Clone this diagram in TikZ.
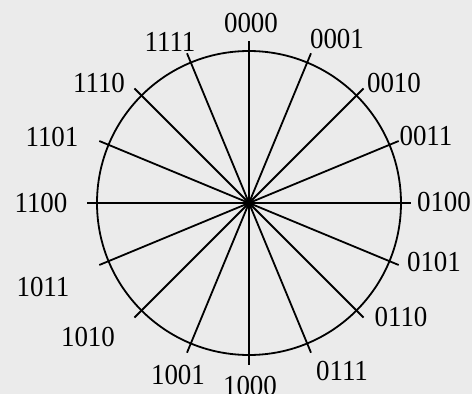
\documentclass[tikz,border=0pt]{standalone}
\usepackage{fontspec}
\setmainfont{Liberation Serif}[FakeStretch=0.93]
\definecolor{panelgray}{RGB}{235,235,235}

\begin{document}
\begin{tikzpicture}[
  x=1pt, y=1pt,
  code/.style={inner sep=0pt, font=\fontsize{29}{32}\selectfont},
  spoke/.style={draw=black, line width=1.8pt},
  rim/.style={draw=black, line width=1.8pt}
]
  \fill[panelgray] (-249,-191) rectangle (223,203);
  \useasboundingbox (-249,-191) rectangle (223,203);

  \coordinate (o) at (0,0);
  \draw[rim] (o) circle (152);

  % spoke ends
  \coordinate (e0)  at (90:162);
  \coordinate (e1)  at (67.5:162);
  \coordinate (e2)  at (45:162);
  \coordinate (e3)  at (22.5:162);
  \coordinate (e4)  at (0:162);
  \coordinate (e5)  at (-22.5:162);
  \coordinate (e6)  at (-45:162);
  \coordinate (e7)  at (-67.5:162);
  \coordinate (e8)  at (-90:162);
  \coordinate (e9)  at (-112.5:162);
  \coordinate (e10) at (-135:162);
  \coordinate (e11) at (-157.5:162);
  \coordinate (e12) at (180:162);
  \coordinate (e13) at (157.5:162);
  \coordinate (e14) at (135:162);
  \coordinate (e15) at (112.5:162);

  \draw[spoke] (o) -- (e0);
  \draw[spoke] (o) -- (e1);
  \draw[spoke] (o) -- (e2);
  \draw[spoke] (o) -- (e3);
  \draw[spoke] (o) -- (e4);
  \draw[spoke] (o) -- (e5);
  \draw[spoke] (o) -- (e6);
  \draw[spoke] (o) -- (e7);
  \draw[spoke] (o) -- (e8);
  \draw[spoke] (o) -- (e9);
  \draw[spoke] (o) -- (e10);
  \draw[spoke] (o) -- (e11);
  \draw[spoke] (o) -- (e12);
  \draw[spoke] (o) -- (e13);
  \draw[spoke] (o) -- (e14);
  \draw[spoke] (o) -- (e15);

  % labels
  \node[code] (l0)  at (2,180)     {0000};
  \node[code] (l1)  at (88,164)    {0001};
  \node[code] (l2)  at (145,120)   {0010};
  \node[code] (l3)  at (177,67)    {0011};
  \node[code] (l4)  at (195,1)     {0100};
  \node[code] (l5)  at (185,-59)   {0101};
  \node[code] (l6)  at (152,-114)  {0110};
  \node[code] (l7)  at (93,-168)   {0111};
  \node[code] (l8)  at (1,-183)    {1000};
  \node[code] (l9)  at (-71,-172)  {1001};
  \node[code] (l10) at (-161,-134) {1010};
  \node[code] (l11) at (-206,-84)  {1011};
  \node[code] (l12) at (-208,0)    {1100};
  \node[code] (l13) at (-197,66)   {1101};
  \node[code] (l14) at (-150,120)  {1110};
  \node[code] (l15) at (-79,161)   {1111};
\end{tikzpicture}
\end{document}
